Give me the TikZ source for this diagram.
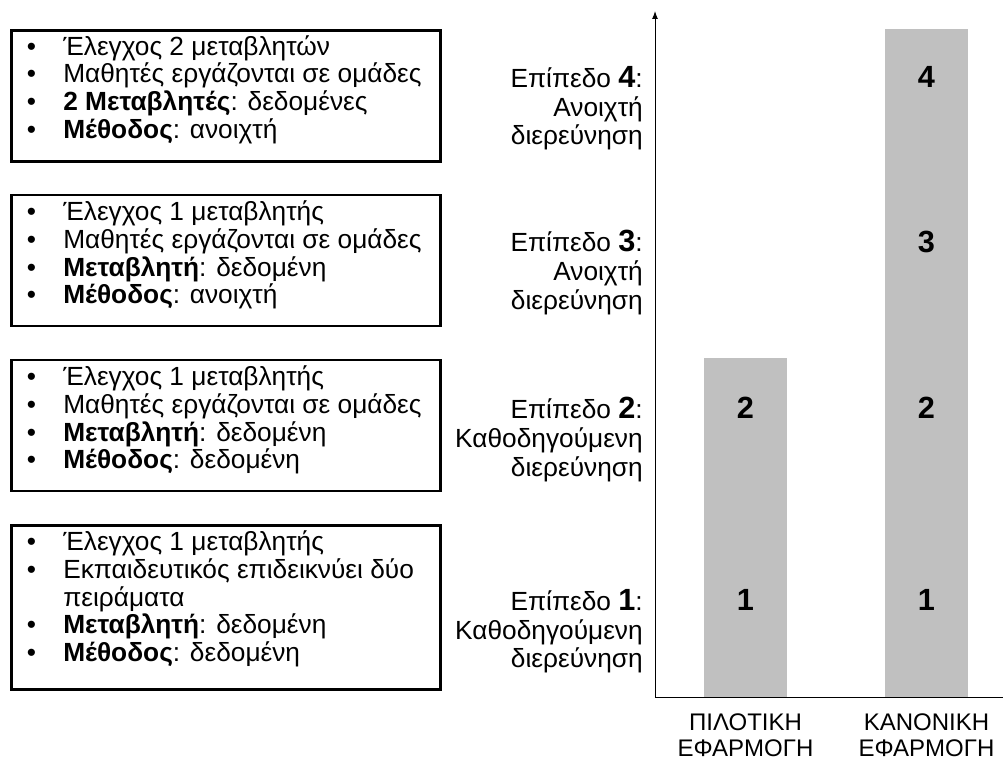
\documentclass[tikz,border=0pt]{standalone}
\usepackage{fontspec}
\setmainfont{Liberation Sans}
\usetikzlibrary{arrows.meta}

\definecolor{barfill}{RGB}{192,192,192}
\newcommand{\bignum}[1]{{\fontsize{23}{22}\selectfont\bfseries #1}}

\begin{document}
\begin{tikzpicture}[x=0.75pt,y=-0.75pt]
    \tikzset{listbox/.style = {draw, line width=2.2pt, minimum width=321.75pt, minimum height=98.25pt, inner sep=0pt, outer sep=0pt}}
    \tikzset{items/.style = {anchor=north west, inner sep=0pt, font=\fontsize{19.7}{20}\selectfont}}
    \tikzset{level/.style = {anchor=north east, align=right, inner sep=0pt, font=\fontsize{19.7}{21.5}\selectfont}}
    \tikzset{bar/.style = {fill=barfill, anchor=south, minimum width=62.25pt, inner sep=0pt, outer sep=0pt}}
    \tikzset{barnum/.style = {inner sep=0pt, font=\fontsize{23}{22}\selectfont\bfseries}}
    \tikzset{phase/.style = {anchor=north, align=center, inner sep=0pt, font=\fontsize{18}{20}\selectfont}}
    \tikzset{axis/.style = {line width=0.75pt}}

    \useasboundingbox (0,0) rectangle (1003,763);

    % boxes with the activity features
    \node[listbox] (box4) at (226,96) {};
    \node[listbox] (box3) at (226,260.5) {};
    \node[listbox] (box2) at (226,425.5) {};
    \node[listbox, minimum height=123pt] (box1) at (226,607.5) {};

    \node[items] (list4) at (26.5,35) {\begin{tabular}{@{}p{27.4pt}@{}l@{}}
      • & Έλεγχος 2 μεταβλητών\\
      • & Μαθητές εργάζονται σε ομάδες\\
      • & \textbf{2 Μεταβλητές}: δεδομένες\\
      • & \textbf{Μέθοδος}: ανοιχτή
    \end{tabular}};
    \node[items] (list3) at (26.5,200.5) {\begin{tabular}{@{}p{27.4pt}@{}l@{}}
      • & Έλεγχος 1 μεταβλητής\\
      • & Μαθητές εργάζονται σε ομάδες\\
      • & \textbf{Μεταβλητή}: δεδομένη\\
      • & \textbf{Μέθοδος}: ανοιχτή
    \end{tabular}};
    \node[items] (list2) at (26.5,365.5) {\begin{tabular}{@{}p{27.4pt}@{}l@{}}
      • & Έλεγχος 1 μεταβλητής\\
      • & Μαθητές εργάζονται σε ομάδες\\
      • & \textbf{Μεταβλητή}: δεδομένη\\
      • & \textbf{Μέθοδος}: δεδομένη
    \end{tabular}};
    \node[items] (list1) at (26.5,530.5) {\begin{tabular}{@{}p{27.4pt}@{}l@{}}
      • & Έλεγχος 1 μεταβλητής\\
      • & Εκπαιδευτικός επιδεικνύει δύο\\
        & πειράματα\\
      • & \textbf{Μεταβλητή}: δεδομένη\\
      • & \textbf{Μέθοδος}: δεδομένη
    \end{tabular}};

    % level names
    \foreach \n/\kind/\y in {4/Ανοιχτή/66, 3/Ανοιχτή/230, 2/Καθοδηγούμενη/397, 1/Καθοδηγούμενη/589}
    {
      \node[level] (level\n) at (643,\y) {Επίπεδο \bignum{\n}:\\ \kind\\ διερεύνηση};
    }

    % axes
    \coordinate (origin) at (655,697);
    \coordinate (ytop) at (655,11);
    \coordinate (xend) at (1003,697);
    \draw[axis,-{Latex[length=6pt,width=4.5pt]}] (origin) -- (ytop);
    \draw[axis] (origin) -- (xend);

    % bars
    \node[bar, minimum height=254.25pt] (pilot) at (745.5,697) {};
    \node[bar, minimum height=501pt] (normal) at (926.5,697) {};
    \foreach \n/\y in {1/600,2/408}
    {
      \node[barnum] (pilot\n) at (745.5,\y) {\n};
    }
    \foreach \n/\y in {1/600,2/408,3/242,4/77}
    {
      \node[barnum] (normal\n) at (926.5,\y) {\n};
    }

    % phase names under the bars
    \node[phase] (pilotname) at (745.5,713) {ΠΙΛΟΤΙΚΗ\\ ΕΦΑΡΜΟΓΗ};
    \node[phase] (normalname) at (926.5,713) {ΚΑΝΟΝΙΚΗ\\ ΕΦΑΡΜΟΓΗ};
\end{tikzpicture}
\end{document}
